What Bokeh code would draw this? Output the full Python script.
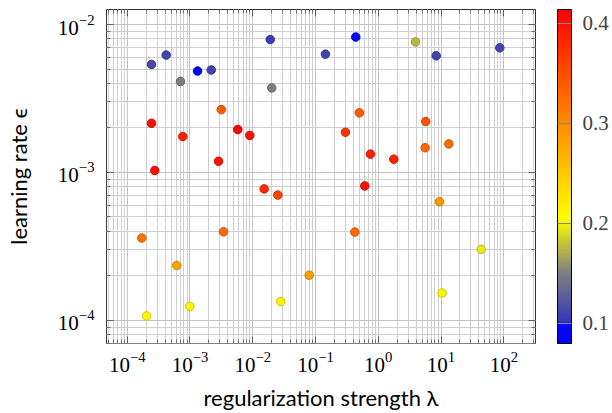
import numpy as np
from bokeh.plotting import figure
from bokeh.models import (ColumnDataSource, LinearColorMapper, ColorBar, FixedTicker,
                          LogAxis, Range1d, CustomJSTickFormatter)
from bokeh.embed import file_html
from bokeh.resources import INLINE

# ---- data ----
lam = [2.44e-4, 4.18e-4, 7.06e-4, 1.32e-3, 2.18e-3, 1.90e-2, 2.01e-2, 0.144, 0.438,
       3.15e-3, 2.44e-4, 7.69e-4, 5.78e-3, 8.98e-3, 0.30, 0.499, 2.75e-4, 2.85e-3,
       1.52e-2, 2.51e-2, 3.92, 8.38, 86.3, 5.71, 0.751, 1.77, 5.58, 13.3, 0.61,
       1.71e-4, 3.42e-3, 0.423, 6.17e-4, 7.94e-2, 9.94e-4, 2.80e-2, 2.03e-4, 9.44,
       43.6, 10.4]
lr = [5.38e-3, 6.22e-3, 4.12e-3, 4.85e-3, 4.93e-3, 7.92e-3, 3.73e-3, 6.31e-3, 8.24e-3,
      2.66e-3, 2.15e-3, 1.75e-3, 1.95e-3, 1.78e-3, 1.87e-3, 2.53e-3, 1.03e-3, 1.19e-3,
      7.74e-4, 7.03e-4, 7.63e-3, 6.15e-3, 6.96e-3, 2.21e-3, 1.33e-3, 1.23e-3, 1.47e-3,
      1.56e-3, 8.11e-4, 3.60e-4, 3.97e-4, 3.95e-4, 2.35e-4, 2.02e-4, 1.24e-4, 1.34e-4,
      1.07e-4, 6.34e-4, 3.02e-4, 1.53e-4]
val = [0.115, 0.11, 0.15, 0.08, 0.11, 0.105, 0.15, 0.11, 0.085,
       0.34, 0.40, 0.39, 0.41, 0.40, 0.37, 0.34, 0.40, 0.40,
       0.38, 0.36, 0.175, 0.11, 0.11, 0.345, 0.39, 0.385, 0.33,
       0.325, 0.40, 0.32, 0.33, 0.33, 0.28, 0.285, 0.215, 0.215,
       0.21, 0.29, 0.195, 0.21]

x_major = [1e-4, 1e-3, 1e-2, 1e-1, 1e0, 1e1, 1e2]
y_major = [1e-4, 1e-3, 1e-2]
cb_ticks = [0.1, 0.2, 0.3, 0.4]

# ---- colormap ----
c_low, c_high = 0.08, 0.4135
stops_v = [0.08, 0.098, 0.102, 0.15, 0.205, 0.30, 0.4135]
stops_c = [(0, 0, 255), (10, 10, 245), (55, 55, 185), (128, 128, 128),
           (255, 255, 0), (255, 140, 0), (255, 0, 0)]
vs = np.linspace(c_low, c_high, 256)
chan = [np.interp(vs, stops_v, [c[i] for c in stops_c]) for i in range(3)]
palette = ["#%02x%02x%02x" % (int(r), int(g), int(b)) for r, g, b in zip(*chan)]
dark = ["#%02x%02x%02x" % (int(r * 0.8), int(g * 0.8), int(b * 0.8)) for r, g, b in zip(*chan)]
mapper = LinearColorMapper(palette=palette, low=c_low, high=c_high)
dmapper = LinearColorMapper(palette=dark, low=c_low, high=c_high)

minor = [m * 10.0 ** e for e in range(-5, 3) for m in range(2, 10)]

p = figure(width=612, height=413, x_axis_type="log", y_axis_type="log",
           x_range=Range1d(10 ** -4.33, 10 ** 2.505),
           y_range=Range1d(10 ** -4.157, 10 ** -1.898),
           min_border_left=106, min_border_right=77, min_border_top=9, min_border_bottom=67,
           output_backend="svg", toolbar_location=None)
p.background_fill_color = "white"
p.border_fill_color = "white"
p.outline_line_color = "#333333"
p.outline_line_width = 1

xt = FixedTicker(ticks=x_major, minor_ticks=minor)
yt = FixedTicker(ticks=y_major, minor_ticks=minor)

blank = CustomJSTickFormatter(code="return ''")
top = LogAxis(ticker=xt, formatter=blank)
right = LogAxis(ticker=yt, formatter=blank)
p.add_layout(top, "above")
p.add_layout(right, "right")

for ax, t in ((p.below[0], xt), (top, xt), (p.left[0], yt), (right, yt)):
    ax.ticker = t
    ax.axis_line_color = None
    ax.major_tick_in = 7
    ax.major_tick_out = 0
    ax.minor_tick_in = 4
    ax.minor_tick_out = 0
    ax.major_tick_line_color = "#606060"
    ax.minor_tick_line_color = "#707070"
    ax.major_label_text_font = "Liberation Serif"
    ax.major_label_text_font_size = "21px"
    ax.major_label_text_color = "black"

top.major_label_standoff = 0
right.major_label_standoff = 0

p.below[0].major_label_standoff = 8
p.left[0].major_label_standoff = 12

p.below[0].axis_label = "regularization strength λ"
p.left[0].axis_label = "learning rate ϵ"
for ax in (p.below[0], p.left[0]):
    ax.axis_label_text_font = "Lato"
    ax.axis_label_text_font_size = "22px"
    ax.axis_label_text_font_style = "normal"
    ax.axis_label_text_color = "black"
p.below[0].axis_label_standoff = 9
p.left[0].axis_label_standoff = 23

for g in (p.xgrid[0], p.ygrid[0]):
    g.grid_line_color = "#c4c4c4"
    g.grid_line_width = 1
    g.minor_grid_line_color = "#cfcfcf"
    g.minor_grid_line_width = 1

src = ColumnDataSource(dict(lam=lam, lr=lr, val=val))
p.scatter(x="lam", y="lr", size=8.5, source=src,
          fill_color={"field": "val", "transform": mapper},
          line_color={"field": "val", "transform": dmapper}, line_width=1)

cb = ColorBar(color_mapper=mapper, ticker=FixedTicker(ticks=cb_ticks), width=14,
              padding=0, margin=0, label_standoff=11, location=(22, 0),
              bar_line_color="black", bar_line_width=1,
              major_tick_in=14, major_tick_out=0, major_tick_line_color="#888888",
              minor_tick_line_color=None,
              major_label_text_font="Liberation Serif", major_label_text_font_size="21px",
              background_fill_color=None, border_line_color=None)
p.add_layout(cb, "right")

open("out.html", "w").write(file_html(p, INLINE))
